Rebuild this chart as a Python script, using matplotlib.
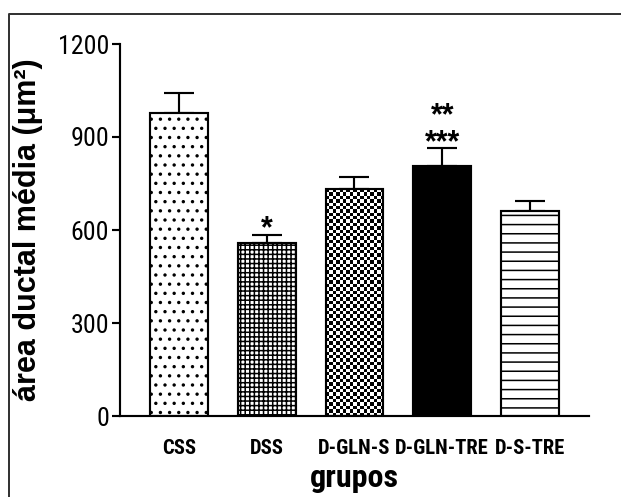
import matplotlib
matplotlib.use("Agg")
import matplotlib.pyplot as plt
import numpy as np
from matplotlib.lines import Line2D
from matplotlib import font_manager as fm

categories = ["CSS", "DSS", "D-GLN-S", "D-GLN-TRE", "D-S-TRE"]
means = [978, 558, 732, 805, 662]
sems = [65, 27, 40, 60, 30]
stars = ["", "*", "", "**\n***", ""]
yticks = [0, 300, 600, 900, 1200]

# choose a narrow font if one is installed
fl = fm.fontManager.ttflist
names = {f.name for f in fl}
narrow = None
narrow_kw = {}
for cand in ['Liberation Sans Narrow', 'Arial Narrow', 'Roboto Condensed',
             'Open Sans Condensed', 'Noto Sans Condensed']:
    if cand in names:
        narrow = cand
        break
if narrow is None:
    for f in fl:
        if f.name in ('DejaVu Sans', 'Noto Sans', 'Open Sans', 'Roboto') and \
                'condensed' in str(f.stretch).lower():
            narrow = f.name
            narrow_kw = {'fontstretch': 'condensed'}
            break
if narrow is None:
    narrow = 'Liberation Sans'
    scale = 0.84
else:
    scale = 1.0

DPI = 110
W, H = 621, 497
plt.rcParams['hatch.linewidth'] = 1.0
plt.rcParams['hatch.color'] = 'black'

fig = plt.figure(figsize=(W / DPI, H / DPI), dpi=DPI)
ax = fig.add_axes([120 / W, 1 - 416 / H, (589 - 120) / W, (416 - 44) / H])

x = np.arange(len(categories))
width = 0.66
hatches = ['..', '++++', None, None, '--']
faces = ['white', 'white', 'white', 'black', 'white']
lw = 1.4

bars = ax.bar(x, means, width=width, color=faces, edgecolor='black',
              linewidth=lw, zorder=2)
for b, h in zip(bars, hatches):
    if h:
        b.set_hatch(h)

ax.errorbar(x, means, yerr=[np.zeros(len(sems)), sems], fmt='none',
            ecolor='black', elinewidth=lw, capsize=10, capthick=lw, zorder=1)

ax.set_xlim(-0.672, 4.673)
ax.set_ylim(0, 1200)

# checkerboard fill for D-GLN-S
b = bars[2]
fig.canvas.draw()
p0 = ax.transData.transform((b.get_x(), 0))
p1 = ax.transData.transform((b.get_x() + b.get_width(), b.get_height()))
wpx = abs(p1[0] - p0[0])
hpx = abs(p1[1] - p0[1])
cell = 3.4
nc = max(1, int(round(wpx / cell)))
nr = max(1, int(round(hpx / cell)))
chk = (np.add.outer(np.arange(nr), np.arange(nc)) % 2).astype(float)
im = ax.imshow(chk, cmap='gray', interpolation='nearest', aspect='auto',
               extent=(b.get_x(), b.get_x() + b.get_width(), 0, b.get_height()),
               zorder=1.5, vmin=0, vmax=1)
im.set_clip_path(b)
b.set_facecolor('none')
ax.set_xlim(-0.672, 4.673)
ax.set_ylim(0, 1200)

for xi, m, s, st in zip(x, means, sems, stars):
    if st:
        ax.text(xi, m + s - 32, st, ha='center', va='bottom', fontsize=20,
                fontweight='bold', family='Liberation Sans', linespacing=0.87)

for sp in ['top', 'right']:
    ax.spines[sp].set_visible(False)
ax.spines['left'].set_linewidth(lw)
ax.spines['bottom'].set_linewidth(lw)

ax.set_yticks(yticks)
ax.set_yticklabels([str(t) for t in yticks], family=narrow,
                   fontsize=17 * scale, **narrow_kw)
ax.tick_params(axis='y', length=5.5, width=lw, pad=1.5, direction='out')
ax.set_xticks(x)
ax.set_xticklabels(categories, family=narrow, fontweight='bold',
                   fontsize=13.5 * (0.82 if scale < 1 else 1.0), **narrow_kw)
ax.tick_params(axis='x', length=0, pad=15)

ax.set_xlabel('grupos', family=narrow, fontweight='bold',
              fontsize=21 * (0.9 if scale < 1 else 1.0), labelpad=3, **narrow_kw)
ax.set_ylabel('área ductal média (μm²)', family='Liberation Sans',
              fontweight='bold', fontsize=20, labelpad=10)

fig.add_artist(Line2D([9 / W, 9 / W, 1.0], [0, 1 - 14 / H, 1 - 14 / H],
                      transform=fig.transFigure, color='#333333', lw=1.3))

fig.savefig('out.png', dpi=DPI)
